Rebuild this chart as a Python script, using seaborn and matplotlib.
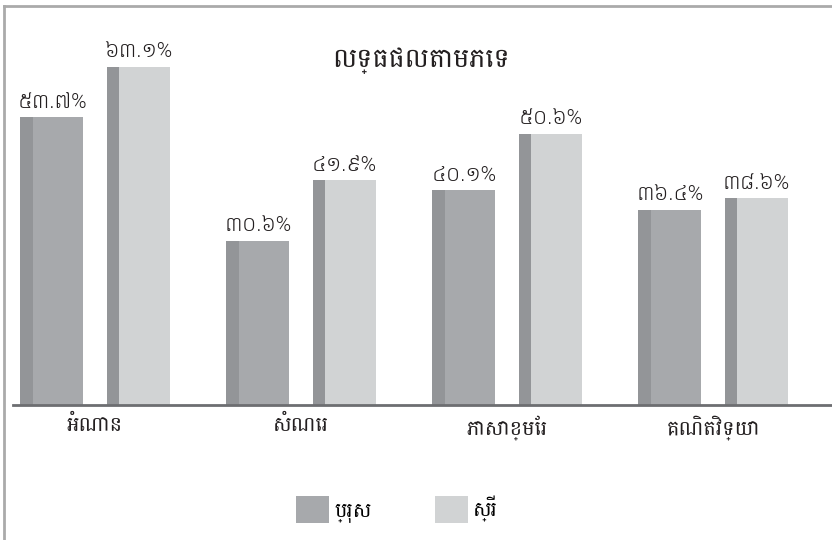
import matplotlib
matplotlib.use("Agg")
import matplotlib.pyplot as plt
from matplotlib.patches import Rectangle, Patch
from matplotlib.lines import Line2D
import seaborn as sns
import pandas as pd

# data
subjects = ['អំណាន', 'សំណេរ', 'ភាសាខ្មែរ', 'គណិតវិទ្យា']
genders = ['ប្រុស', 'ស្រី']
male_pct = [53.7, 30.6, 40.1, 36.4]
female_pct = [63.1, 41.9, 50.6, 38.6]
title = 'លទ្ធផលតាមភេទ'

face_colors = ['#a7a9ac', '#d1d3d4']
side_color = '#939598'

plt.rcParams['font.family'] = ['Battambang', 'DejaVu Sans']


def khmer_num(v):
    s = f"{v:.1f}%"
    return ''.join(chr(0x17E0 + int(c)) if c.isdigit() else c for c in s)


df = pd.DataFrame({
    'subject': subjects * 2,
    'gender': [genders[0]] * 4 + [genders[1]] * 4,
    'pct': male_pct + female_pct,
})

fig = plt.figure(figsize=(8.32, 5.40), dpi=100)
# axes placed in pixel terms: left 13px, baseline at 405px
ax = fig.add_axes([13 / 832, 135 / 540, 819 / 832, 385 / 540])

sns.barplot(data=df, x='subject', y='pct', hue='gender', palette=face_colors,
            saturation=1, width=0.84, gap=0.27, legend=False, ax=ax)

ax.set_xlim(-0.398, 3.578)
ax.set_ylim(0, 385 / 5.36)

# darker left face for the pseudo-3D look
for bar in list(ax.patches):
    x, y = bar.get_x(), bar.get_y()
    w, h = bar.get_width(), bar.get_height()
    ax.add_patch(Rectangle((x, y), w * 0.2, h, facecolor=side_color,
                           edgecolor='none', zorder=bar.get_zorder() + 0.1))

for cont, vals in zip(ax.containers, [male_pct, female_pct]):
    ax.bar_label(cont, labels=[khmer_num(v) for v in vals], padding=4,
                 fontsize=15, fontweight='light', color='#231f20')

ax.set_xlabel('')
ax.set_ylabel('')
ax.set_yticks([])
ax.tick_params(axis='x', length=0, labelsize=15, colors='#231f20', pad=7)
for s in ['top', 'right', 'left']:
    ax.spines[s].set_visible(False)
ax.spines['bottom'].set_color('#6d6e71')
ax.spines['bottom'].set_linewidth(2)
ax.patch.set_visible(False)

fig.text(421 / 832, 1 - 61 / 540, title, ha='center', va='center',
         fontsize=19.5, color='#231f20')

handles = [Patch(facecolor=c, edgecolor='none') for c in face_colors]
fig.legend(handles, genders, loc='center', bbox_to_anchor=(397 / 832, 31 / 540),
           ncol=2, frameon=False, fontsize=15, handlelength=1.6,
           handleheight=1.6, handletextpad=0.25, columnspacing=3.0)

# outer frame lines (top and left)
fig.add_artist(Line2D([3.5 / 832, 1], [1 - 6 / 540, 1 - 6 / 540],
                      transform=fig.transFigure, color='#aaaaaa', lw=2))
fig.add_artist(Line2D([3.5 / 832, 3.5 / 832], [0, 1 - 6 / 540],
                      transform=fig.transFigure, color='#aaaaaa', lw=2))

fig.savefig('out.png', dpi=100)
